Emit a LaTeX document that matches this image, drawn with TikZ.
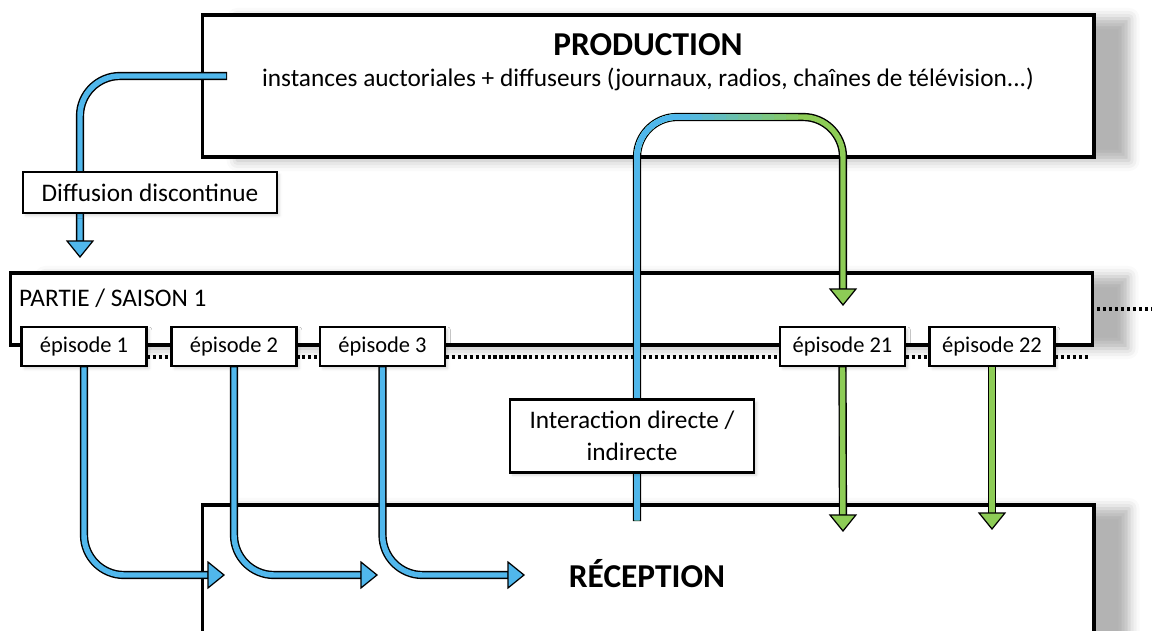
\documentclass[tikz,border=0pt]{standalone}
\usepackage{fontspec}
\setmainfont{Carlito}
\usetikzlibrary{arrows.meta,shadows.blur}

\definecolor{flowblue}{RGB}{80,183,236}
\definecolor{flowgreen}{RGB}{141,204,86}

\newcommand{\txtfont}{\fontsize{14.4}{18}\selectfont}
\newcommand{\epfont}{\fontsize{12.8}{15}\selectfont}
\newcommand{\titlefont}{\fontsize{19}{23}\selectfont\bfseries}

\tikzset{
  bigbox/.style={draw, line width=1.8pt, fill=white,
    blur shadow={shadow xshift=20pt, shadow yshift=-2pt, shadow blur radius=6pt, shadow opacity=30}},
  smallbox/.style={draw, line width=1.6pt, fill=white, inner sep=0pt,
    blur shadow={shadow xshift=1.5pt, shadow yshift=-1.5pt, shadow blur radius=1.5pt, shadow opacity=15}},
  flow/.style={draw=#1, line width=3.1pt, rounded corners=0.8cm,
    -{Triangle[length=10pt,width=16pt,color=black,fill=#1,line width=0.7pt]},
    preaction={draw=black, line width=4.7pt, -, shorten >=7pt, shorten <=-0.7pt}},
  dotline/.style={line width=1.8pt, dash pattern=on 1.8pt off 1.6pt}
}

\begin{document}
\begin{tikzpicture}[x=0.02cm, y=-0.02cm]
\useasboundingbox (0,0) rectangle (1152,631);
\clip (0,0) rectangle (1152,631);

% saison
\node[bigbox, minimum width=21.66cm, minimum height=1.44cm] (S) at (551.5,309) {};
\node[anchor=west, font=\txtfont] (Slabel) at (13,298) {PARTIE / SAISON 1};
\coordinate (dotA) at (147,357);
\coordinate (dotB) at (1090,357);
\coordinate (dotC) at (1097,309);
\coordinate (dotD) at (1152,309);
\draw[dotline] (dotA) -- (dotB);
\draw[dotline] (dotC) -- (dotD);

% production et reception
\node[bigbox, minimum width=17.84cm, minimum height=2.84cm] (P) at (648,86) {};
\node[font=\titlefont] (Ptitle) at (648,45) {PRODUCTION};
\node[font=\txtfont] (Ptext) at (648,79) {instances auctoriales + diffuseurs (journaux, radios, chaînes de télévision...)};
\node[bigbox, minimum width=17.84cm, minimum height=3cm] (R) at (648,580) {};
\node[font=\titlefont] (Rtitle) at (647,574) {RÉCEPTION};

% episodes
\begin{scope}[every node/.style={smallbox, minimum width=2.5cm, minimum height=0.78cm, font=\epfont}]
    \node (E1) at (84,346.5) {épisode 1};
    \node (E2) at (234,346.5) {épisode 2};
    \node (E3) at (382.5,346.5) {épisode 3};
    \node (E21) at (842.5,346.5) {épisode 21};
    \node (E22) at (992,346.5) {épisode 22};
\end{scope}

% fleches
\coordinate (Dstart) at (226,76);
\coordinate (Dend) at (80,258);
\coordinate (E1end) at (225,575);
\coordinate (E2end) at (378,575);
\coordinate (E3end) at (525,575);
\coordinate (E21end) at (843,532);
\coordinate (E22end) at (992,530);
\coordinate (Istart) at (637,520);
\coordinate (Itop) at (740,117);
\coordinate (Iend) at (843,306);

\draw[flow=flowblue] (Dstart) -| (Dend);
\draw[flow=flowblue] (E1.south) |- (E1end);
\draw[flow=flowblue] (E2.south) |- (E2end);
\draw[flow=flowblue] (E3.south) |- (E3end);
\draw[flow=flowgreen] (E21.south) -- (E21end);
\draw[flow=flowgreen] (E22.south) -- (E22end);

\draw[flow=flowgreen] (Istart) |- (Itop) -| (Iend);
\foreach \k in {9,...,0} {
    \pgfmathtruncatemacro{\mix}{100-10*\k}
    \begin{scope}
        \clip (0,0) rectangle (690+12*\k,631);
        \draw[line width=3.1pt, rounded corners=0.8cm, draw=flowblue!\mix!flowgreen] (Istart) |- (Itop) -| (Iend);
    \end{scope}
}

% boites par-dessus
\node[smallbox, minimum width=4.88cm, minimum height=1.46cm, align=center, font=\txtfont] (I) at (632,436) {Interaction directe /\\ indirecte};
\node[smallbox, minimum width=5.08cm, minimum height=0.82cm, font=\txtfont] (D) at (150,192.5) {Diffusion discontinue};
\end{tikzpicture}
\end{document}
